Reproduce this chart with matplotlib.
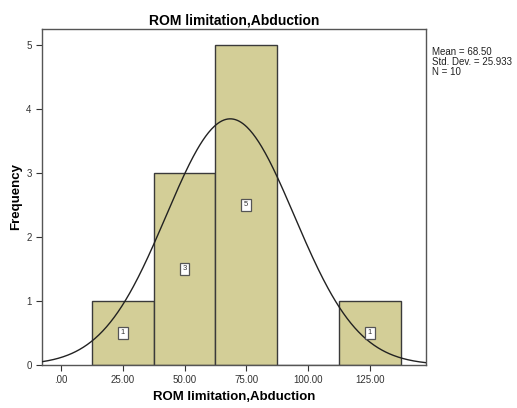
import numpy as np
import matplotlib
matplotlib.use("Agg")
import matplotlib.pyplot as plt

plt.rcParams['font.family'] = ['Liberation Sans', 'DejaVu Sans']

# гистограмма: границы интервалов и частоты
bin_edges = [12.5, 37.5, 62.5, 87.5, 112.5, 137.5]
counts = [1, 3, 5, 0, 1]
mean_val = 68.50
std_val = 25.933
n_val = 10
xtick_vals = [0, 25, 50, 75, 100, 125]
xtick_labels = ['.00', '25.00', '50.00', '75.00', '100.00', '125.00']
ytick_vals = [0, 1, 2, 3, 4, 5]

fig = plt.figure(figsize=(5.17, 4.08), dpi=100)
ax = fig.add_axes([0.0812, 0.1054, 0.743, 0.8236])

lefts = np.array(bin_edges[:-1])
widths = np.diff(bin_edges)
ax.bar(lefts, counts, width=widths, align='edge', color='#d3ce97',
       edgecolor='#3a3a3a', linewidth=1.0, zorder=2)

# подписи частот внутри столбцов
for l, w, c in zip(lefts, widths, counts):
    if c > 0:
        ax.text(l + w / 2, c / 2, str(c), ha='center', va='center', fontsize=5.5,
                color='#333333', zorder=4,
                bbox=dict(boxstyle='square,pad=0.35', fc='white', ec='#555555', lw=0.9))

# нормальная кривая
xlim = (-7.7, 147.8)
xs = np.linspace(xlim[0], xlim[1], 400)
bw = widths[0]
ys = n_val * bw / (std_val * np.sqrt(2 * np.pi)) * np.exp(-0.5 * ((xs - mean_val) / std_val) ** 2)
ax.plot(xs, ys, color='#222222', linewidth=1.0, zorder=3)

ax.set_xlim(*xlim)
ax.set_ylim(0, 5.25)
ax.set_xticks(xtick_vals)
ax.set_xticklabels(xtick_labels)
ax.set_yticks(ytick_vals)
ax.tick_params(axis='both', labelsize=7, colors='#333333', length=4, width=0.8, direction='out')
for s in ax.spines.values():
    s.set_color('#555555')
    s.set_linewidth(1.0)

ax.set_title('ROM limitation,Abduction', fontsize=10, fontweight='bold', pad=3)
ax.set_xlabel('ROM limitation,Abduction', fontsize=9.5, fontweight='bold', labelpad=4)
ax.set_ylabel('Frequency', fontsize=9.5, fontweight='bold', labelpad=3)

fig.text(0.836, 0.885, 'Mean = %.2f\nStd. Dev. = %.3f\nN = %d' % (mean_val, std_val, n_val),
         fontsize=7, va='top', ha='left', linespacing=1.0, color='#222222')

fig.savefig('out.png', dpi=100)
